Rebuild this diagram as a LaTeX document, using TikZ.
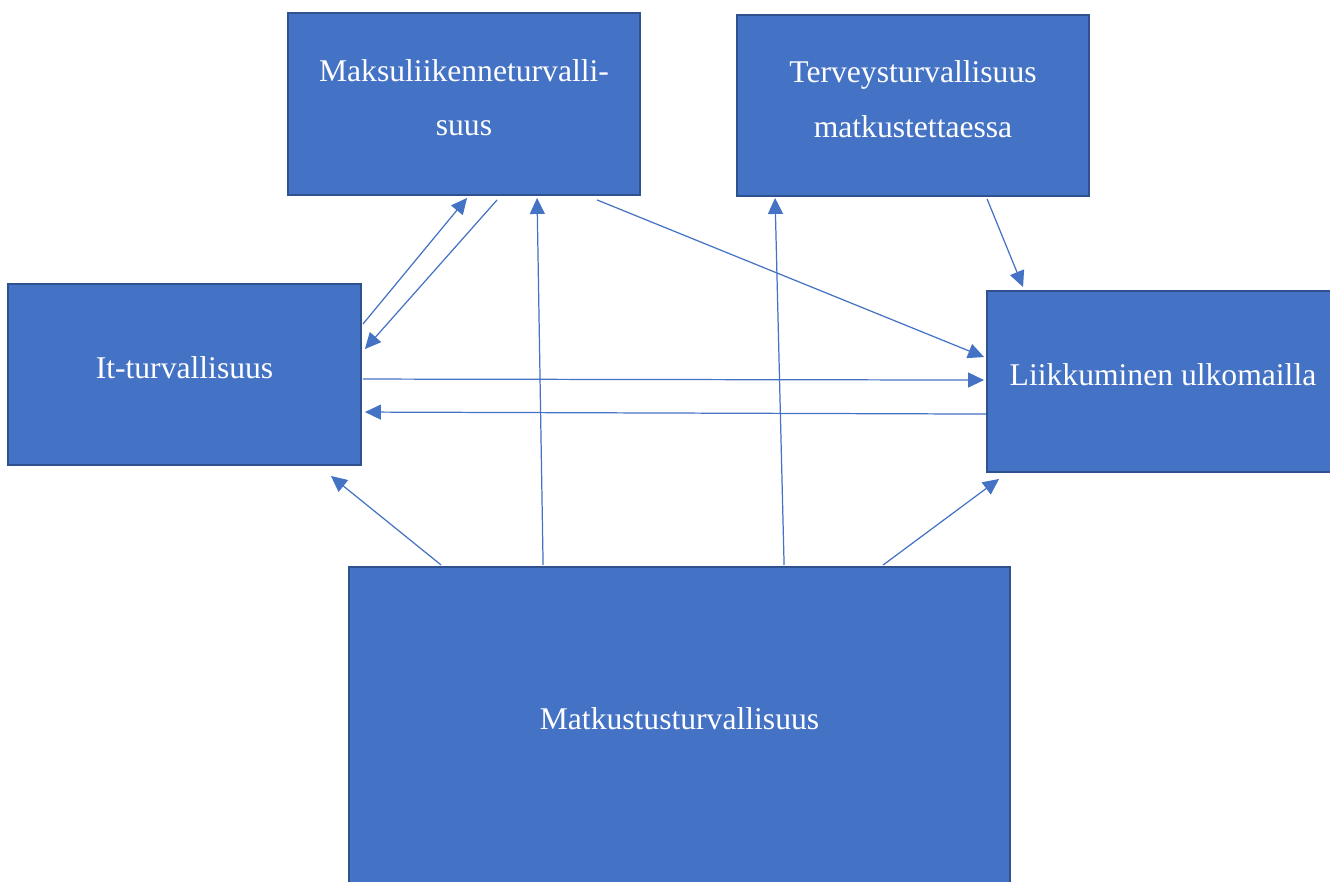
\documentclass[tikz,border=0pt]{standalone}
\usepackage{fontspec}
\setmainfont{Liberation Serif}
\usetikzlibrary{arrows.meta,calc}
\definecolor{boxblue}{HTML}{4472C4}
\definecolor{boxedge}{HTML}{2F528F}
\begin{document}
\begin{tikzpicture}[x=0.02cm, y=-0.02cm,
    box/.style={draw=boxedge, line width=1.1pt, fill=boxblue, text=white,
        font=\fontsize{18pt}{31pt}\selectfont, align=center, inner sep=0pt,
        text depth=0.26cm},
    link/.style={draw=boxblue, line width=0.7pt,
        -{Triangle[length=0.32cm, width=0.3cm]}}]
    \useasboundingbox (0,0) rectangle (1330,882);
    \clip (0,0) rectangle (1330,882);
    % boxes
    \node[box, minimum width=7.04cm, minimum height=3.64cm] (maksu) at (464,104)
        {Maksuliikenneturvalli-\\suus};
    \node[box, minimum width=7.04cm, minimum height=3.62cm] (terv) at (913,105.5)
        {Terveysturvallisuus\\matkustettaessa};
    \node[box, minimum width=7.06cm, minimum height=3.62cm] (it) at (184.5,374.5)
        {It-turvallisuus};
    \node[box, minimum width=7.04cm, minimum height=3.62cm] (liik) at (1163,381.5)
        {Liikkuminen ulkomailla};
    \node[box, minimum width=13.22cm, minimum height=6.8cm, text depth=0.72cm,
        anchor=north] (matk) at (679.5,566) {Matkustusturvallisuus};
    % connectors
    \draw[link] ($(it.north east)+(1,41)$) -- ($(maksu.south west)+(180,2)$);
    \draw[link] ($(maksu.south west)+(210,4)$) -- ($(it.north east)+(3,66)$);
    \draw[link] ($(matk.north west)+(195,-1)$) -- ($(maksu.south west)+(250,2)$);
    \draw[link] ($(maksu.south west)+(310,4)$) -- ($(liik.north west)+(-2,67)$);
    \draw[link] ($(it.north east)+(1,96)$) -- ($(liik.north west)+(-2,90)$);
    \draw[link] ($(liik.north west)+(0,124)$) -- ($(it.north east)+(3,129)$);
    \draw[link] ($(terv.south west)+(251,2)$) -- ($(liik.north west)+(37,-3)$);
    \draw[link] ($(matk.north west)+(436,-1)$) -- ($(terv.south west)+(39,1)$);
    \draw[link] ($(matk.north west)+(93,-1)$) -- ($(it.south east)+(-31,10)$);
    \draw[link] ($(matk.north west)+(535,-1)$) -- ($(liik.south west)+(13,6)$);
\end{tikzpicture}
\end{document}
